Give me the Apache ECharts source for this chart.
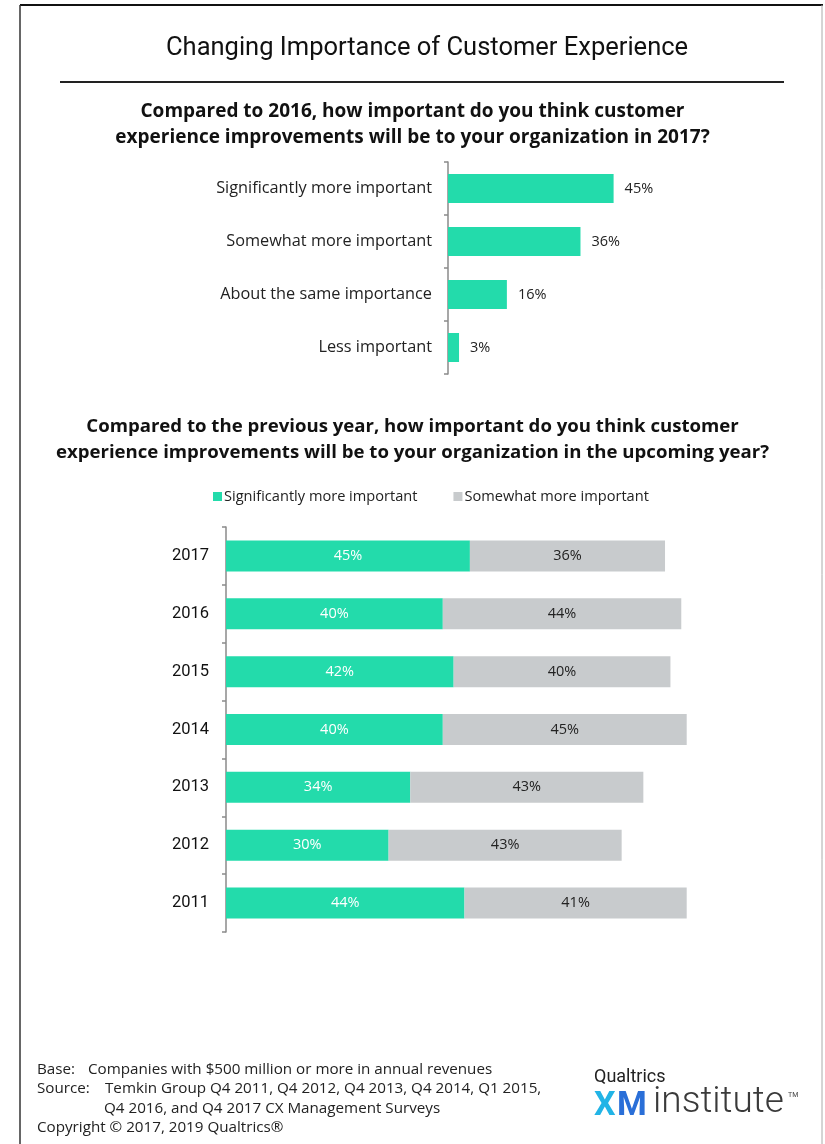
<!DOCTYPE html>
<html>
<head>
<meta charset="utf-8">
<script src="https://cdn.jsdelivr.net/npm/echarts@6/dist/echarts.min.js"></script>
<style>
  html, body { margin: 0; padding: 0; background: #fff; }
  #chart { width: 825px; height: 1144px; }
</style>
</head>
<body>
<div id="chart"></div>
<script>
// Question 1: importance in 2017 vs 2016
const importanceLevels = ['Significantly more important', 'Somewhat more important', 'About the same importance', 'Less important'];
const importanceShares = [45, 36, 16, 3];

// Question 2: yearly trend
const years = ['2017', '2016', '2015', '2014', '2013', '2012', '2011'];
const significantlyMore = [45, 40, 42, 40, 34, 30, 44];
const somewhatMore = [36, 44, 40, 45, 43, 43, 41];
const seriesNames = ['Significantly more important', 'Somewhat more important'];

const GREEN = '#23dbab';
const GREY = '#c8cbcd';
const HEAD_FONT = 'Roboto, "Liberation Sans", sans-serif';
const FONT = '"Open Sans", Roboto, sans-serif';

const chart = echarts.init(document.getElementById('chart'), null, { renderer: 'canvas' });

const pct = v => v + '%';

const option = {
  backgroundColor: '#fff',
  textStyle: { fontFamily: FONT },
  animation: false,
  title: [
    {
      text: 'Changing Importance of Customer Experience',
      left: 161, top: 31,
      textStyle: { fontFamily: HEAD_FONT, fontSize: 25.5, fontWeight: 'normal', color: '#111' }
    },
    {
      text: 'Compared to 2016, how important do you think customer\nexperience improvements will be to your organization in 2017?',
      left: 'center', top: 94,
      textStyle: { fontFamily: FONT, fontSize: 19, fontWeight: 'bold', color: '#111', lineHeight: 26, align: 'center' }
    },
    {
      text: 'Compared to the previous year, how important do you think customer\nexperience improvements will be to your organization in the upcoming year?',
      left: 'center', top: 409,
      textStyle: { fontFamily: FONT, fontSize: 18.6, fontWeight: 'bold', color: '#111', lineHeight: 26, align: 'center' }
    }
  ],
  legend: {
    data: seriesNames,
    top: 484, left: 208,
    icon: 'rect', itemWidth: 9, itemHeight: 9, itemGap: 36,
    textStyle: { fontFamily: FONT, fontSize: 14.6, color: '#222', padding: [0, 0, 0, -3] }
  },
  grid: [
    { left: 448, top: 162, width: 368, height: 212 },
    { left: 226, top: 527, width: 542, height: 405 }
  ],
  xAxis: [
    { gridIndex: 0, type: 'value', min: 0, max: 100, show: false },
    { gridIndex: 1, type: 'value', min: 0, max: 100, show: false }
  ],
  yAxis: [
    {
      gridIndex: 0, type: 'category', data: importanceLevels, inverse: true,
      axisLine: { lineStyle: { color: '#8a8a8a', width: 1.5 } },
      axisTick: { show: true, length: 4, lineStyle: { color: '#8a8a8a', width: 1.5 } },
      axisLabel: { fontFamily: FONT, fontSize: 16.3, color: '#222', margin: 16 }
    },
    {
      gridIndex: 1, type: 'category', data: years, inverse: true,
      axisLine: { lineStyle: { color: '#8a8a8a', width: 1.5 } },
      axisTick: { show: true, length: 4, lineStyle: { color: '#8a8a8a', width: 1.5 } },
      axisLabel: { fontFamily: HEAD_FONT, fontSize: 16.5, color: '#111', margin: 17, padding: [4, 0, 0, 0] }
    }
  ],
  series: [
    {
      type: 'bar', xAxisIndex: 0, yAxisIndex: 0,
      data: importanceShares, barWidth: 29,
      itemStyle: { color: GREEN },
      label: { show: true, position: 'right', distance: 11, formatter: p => pct(p.value),
               fontFamily: FONT, fontSize: 14.5, color: '#222', padding: [3, 0, 0, 0] }
    },
    {
      name: seriesNames[0], type: 'bar', xAxisIndex: 1, yAxisIndex: 1, stack: 'yr',
      data: significantlyMore, barWidth: 31,
      itemStyle: { color: GREEN },
      label: { show: true, position: 'inside', formatter: p => pct(p.value),
               fontFamily: FONT, fontSize: 14.5, color: '#fff', padding: [3, 0, 0, 0] }
    },
    {
      name: seriesNames[1], type: 'bar', xAxisIndex: 1, yAxisIndex: 1, stack: 'yr',
      data: somewhatMore, barWidth: 31,
      itemStyle: { color: GREY },
      label: { show: true, position: 'inside', formatter: p => pct(p.value),
               fontFamily: FONT, fontSize: 14.5, color: '#222', padding: [3, 0, 0, 0] }
    }
  ],
  graphic: [
    // page frame
    { type: 'line', shape: { x1: 20, y1: 5, x2: 823, y2: 5 }, style: { stroke: '#111', lineWidth: 2 } },
    { type: 'line', shape: { x1: 20, y1: 5, x2: 20, y2: 1144 }, style: { stroke: '#333', lineWidth: 1.5 } },
    { type: 'line', shape: { x1: 822, y1: 5, x2: 822, y2: 1144 }, style: { stroke: '#aaa', lineWidth: 1 } },
    // rule under the heading
    { type: 'line', shape: { x1: 60, y1: 82, x2: 784, y2: 82 }, style: { stroke: '#222', lineWidth: 2 } },
    // footnotes
    { type: 'text', left: 37, top: 1062, style: { text: 'Base:', fontFamily: FONT, fontSize: 15.2, fill: '#222' } },
    { type: 'text', left: 88, top: 1062, style: { text: 'Companies with $500 million or more in annual revenues', fontFamily: FONT, fontSize: 15.2, fill: '#222' } },
    { type: 'text', left: 37, top: 1081, style: { text: 'Source:', fontFamily: FONT, fontSize: 15.2, fill: '#222' } },
    { type: 'text', left: 105, top: 1081, style: { text: 'Temkin Group Q4 2011, Q4 2012, Q4 2013, Q4 2014, Q1 2015,', fontFamily: FONT, fontSize: 15.2, fill: '#222' } },
    { type: 'text', left: 104, top: 1101, style: { text: 'Q4 2016, and Q4 2017 CX Management Surveys', fontFamily: FONT, fontSize: 15.2, fill: '#222' } },
    { type: 'text', left: 37, top: 1120, style: { text: 'Copyright \u00a9 2017, 2019 Qualtrics\u00ae', fontFamily: FONT, fontSize: 15.2, fill: '#222' } },
    // logo
    { type: 'text', left: 594, top: 1068, style: { text: 'Qualtrics', fontFamily: HEAD_FONT, fontSize: 18, fill: '#222' } },
    { type: 'text', left: 594, top: 1089, style: { text: 'X', fontFamily: HEAD_FONT, fontSize: 34, fontWeight: 'bold', fill: '#22b4e6' } },
    { type: 'text', left: 617, top: 1089, style: { text: 'M', fontFamily: HEAD_FONT, fontSize: 34, fontWeight: 'bold', fill: '#2a6fd8' } },
    { type: 'text', left: 653, top: 1084, style: { text: 'institute', fontFamily: HEAD_FONT, fontSize: 37, fontWeight: 300, fill: '#3a3a3a' } },
    { type: 'text', left: 788, top: 1092, style: { text: 'TM', fontFamily: HEAD_FONT, fontSize: 7, fill: '#444' } }
  ]
};

chart.setOption(option);
</script>
</body>
</html>
